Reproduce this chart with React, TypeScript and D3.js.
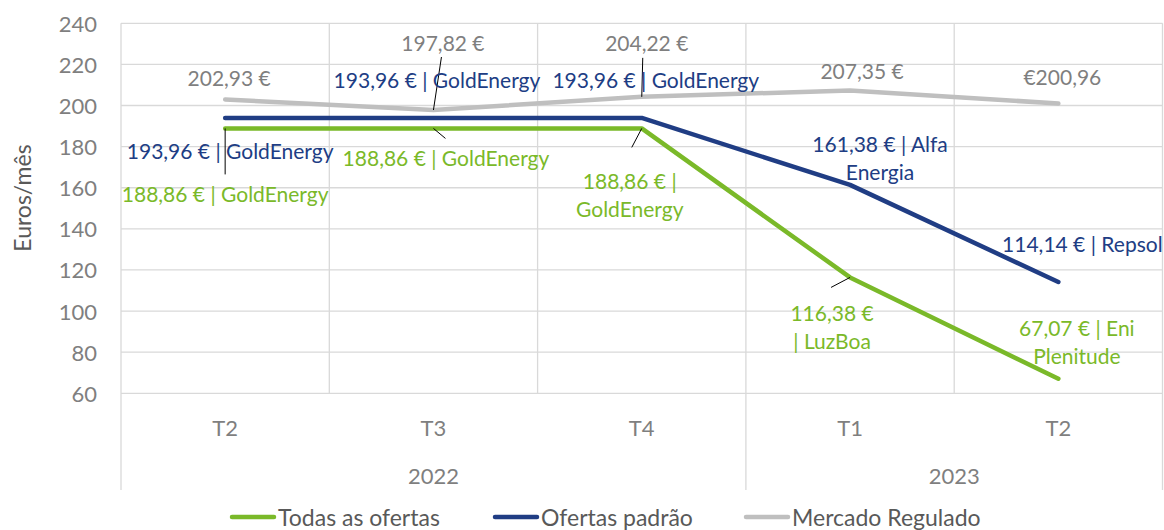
import React from "react";
import * as d3 from "d3";

const quarters = ["T2", "T3", "T4", "T1", "T2"];
const years = [
  { label: "2022", from: 0, to: 3 },
  { label: "2023", from: 3, to: 5 },
];
const todasOfertas = [188.86, 188.86, 188.86, 116.38, 67.07];
const ofertasPadrao = [193.96, 193.96, 193.96, 161.38, 114.14];
const mercadoRegulado = [202.93, 197.82, 204.22, 207.35, 200.96];
const todasLabels = [
  ["188,86 € | GoldEnergy"],
  ["188,86 € | GoldEnergy"],
  ["188,86 € |", "GoldEnergy"],
  ["116,38 €", "| LuzBoa"],
  ["67,07 € | Eni", "Plenitude"],
];
const padraoLabels = [
  ["193,96 € | GoldEnergy"],
  ["193,96 € | GoldEnergy"],
  ["193,96 € | GoldEnergy"],
  ["161,38 € | Alfa", "Energia"],
  ["114,14 € | Repsol"],
];
const reguladoLabels = [["202,93 €"], ["197,82 €"], ["204,22 €"], ["207,35 €"], ["€200,96"]];
const yTicks = [60, 80, 100, 120, 140, 160, 180, 200, 220, 240];
const seriesNames = ["Todas as ofertas", "Ofertas padrão", "Mercado Regulado"];

// label layout: offsets (px) of first-line center from the point, plus optional leader end
type LL = { dx: number; dy: number; lead?: [number, number, number, number] };
const todasLayout: LL[] = [
  { dx: 0, dy: 64.6, lead: [0, 0, 0, 46] },
  { dx: 12.5, dy: 28.6, lead: [0, 0, 12, 10] },
  { dx: -12, dy: 51.6, lead: [0, 0, -10, 19] },
  { dx: -18, dy: 34.7, lead: [0, 0, -19, 10] },
  { dx: 18.5, dy: -51.8 },
];
const padraoLayout: LL[] = [
  { dx: 5, dy: 32 },
  { dx: 3.5, dy: -39 },
  { dx: 14, dy: -39 },
  { dx: 30, dy: -42 },
  { dx: 24, dy: -39 },
];
const reguladoLayout: LL[] = [
  { dx: 4, dy: -22.5 },
  { dx: 9.5, dy: -68, lead: [0, 0, 8, -53] },
  { dx: 5, dy: -55, lead: [0, 0, 1, -39] },
  { dx: 12, dy: -20.5 },
  { dx: 4, dy: -27.6 },
];

const GREEN = "#7AB929";
const BLUE = "#203D84";
const GREY = "#BFBFBF";
const TEXT_GREY = "#7F7F7F";
const LEGEND_TEXT = "#595959";
const GRID = "#D9D9D9";
const FONT = "Lato, 'Open Sans', sans-serif";
const FS = 21;
const FS_TICK = 22;
const FS_LEGEND = 23;
const FS_TITLE = 23;

export default function App() {
  const W = 1164,
    H = 530;
  const left = 121,
    right = 1162.5,
    top = 23.3,
    bottom = 393.3,
    axisBottom = 490;
  const idx = quarters.map((_, i) => i);
  const x = d3.scaleBand<number>().domain(idx).range([left, right]).padding(0);
  const cx = (i: number) => (x(i) as number) + x.bandwidth() / 2;
  const y = d3.scaleLinear().domain([60, 240]).range([bottom, top]);
  const line = d3
    .line<number>()
    .x((_, i) => cx(i))
    .y((d) => y(d));

  const series = [
    { name: seriesNames[0], data: todasOfertas, color: GREEN, labels: todasLabels, layout: todasLayout, width: 4.5 },
    { name: seriesNames[1], data: ofertasPadrao, color: BLUE, labels: padraoLabels, layout: padraoLayout, width: 4.5 },
    { name: seriesNames[2], data: mercadoRegulado, color: GREY, labels: reguladoLabels, layout: reguladoLayout, width: 4.5 },
  ];
  const labelColor = [GREEN, BLUE, TEXT_GREY];
  const drawOrder = [2, 1, 0];

  const boundaries = d3.range(quarters.length + 1).map((i) => (i < quarters.length ? (x(i) as number) : right));
  const yearBounds = new Set<number>([0, ...years.map((yy) => yy.to)]);

  const legendItems = [
    { lx: 232, tx: 278 },
    { lx: 495, tx: 541 },
    { lx: 746, tx: 792 },
  ];

  return (
    <svg
      width={W}
      height={H}
      style={{ position: "absolute", left: 0, top: 0, background: "#fff" }}
      fontFamily={FONT}
    >
      {yTicks.map((t) => (
        <line key={"h" + t} x1={left} x2={right} y1={y(t)} y2={y(t)} stroke={GRID} strokeWidth={1.3} />
      ))}
      {boundaries.map((bx, i) => (
        <line
          key={"v" + i}
          x1={bx}
          x2={bx}
          y1={top}
          y2={yearBounds.has(i) ? axisBottom : bottom}
          stroke={GRID}
          strokeWidth={1.3}
        />
      ))}
      {yTicks.map((t) => (
        <text key={"yt" + t} x={97} y={y(t)} textAnchor="end" dominantBaseline="central" fontSize={FS_TICK} fill={TEXT_GREY}>
          {t}
        </text>
      ))}
      <text
        transform={`translate(22,198) rotate(-90)`}
        textAnchor="middle"
        dominantBaseline="central"
        fontSize={FS_TITLE}
        fill={LEGEND_TEXT}
      >
        Euros/mês
      </text>
      {quarters.map((q, i) => (
        <text key={"q" + i} x={cx(i)} y={427} textAnchor="middle" dominantBaseline="central" fontSize={FS_TICK} fill={TEXT_GREY}>
          {q}
        </text>
      ))}
      {years.map((yy) => (
        <text
          key={yy.label}
          x={((x(yy.from) as number) + (yy.to < quarters.length ? (x(yy.to) as number) : right)) / 2}
          y={475}
          textAnchor="middle"
          dominantBaseline="central"
          fontSize={FS_TICK}
          fill={TEXT_GREY}
        >
          {yy.label}
        </text>
      ))}
      {drawOrder.map((si) => {
        const s = series[si];
        return (
          <path
            key={"l" + si}
            d={line(s.data) || ""}
            fill="none"
            stroke={s.color}
            strokeWidth={s.width}
            strokeLinecap="round"
            strokeLinejoin="round"
          />
        );
      })}
      {series.map((s, si) =>
        s.data.map((v, i) => {
          const l = s.layout[i].lead;
          if (!l) return null;
          const px = cx(i),
            py = y(v);
          return (
            <line
              key={"ld" + si + "-" + i}
              x1={px + l[0]}
              y1={py + l[1]}
              x2={px + l[2]}
              y2={py + l[3]}
              stroke="#000"
              strokeWidth={1}
            />
          );
        })
      )}
      {series.map((s, si) =>
        s.data.map((v, i) => {
          const L = s.layout[i];
          const px = cx(i) + L.dx,
            py = y(v) + L.dy;
          return (
            <text
              key={"dl" + si + "-" + i}
              x={px}
              y={py}
              textAnchor="middle"
              dominantBaseline="central"
              fontSize={FS}
              fill={labelColor[si]}
            >
              {s.labels[i].map((ln, k) => (
                <tspan key={k} x={px} y={py + k * 28}>
                  {ln}
                </tspan>
              ))}
            </text>
          );
        })
      )}
      {series.map((s, si) => (
        <g key={"lg" + si}>
          <line
            x1={legendItems[si].lx}
            x2={legendItems[si].tx - 4}
            y1={517}
            y2={517}
            stroke={s.color}
            strokeWidth={4.5}
            strokeLinecap="round"
          />
          <text x={legendItems[si].tx} y={517} dominantBaseline="central" fontSize={FS_LEGEND} fill={LEGEND_TEXT}>
            {s.name}
          </text>
        </g>
      ))}
    </svg>
  );
}
